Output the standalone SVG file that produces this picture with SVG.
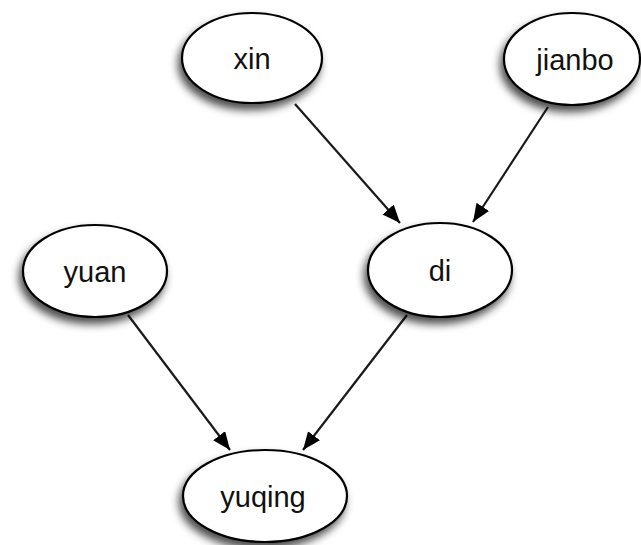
<svg xmlns="http://www.w3.org/2000/svg" width="641" height="545" viewBox="0 0 641 545">
<defs>
<filter id="sh" x="-30%" y="-30%" width="160%" height="170%">
<feDropShadow dx="-3" dy="6" stdDeviation="4.5" flood-color="#000" flood-opacity="0.7"/>
</filter>
<marker id="ah" markerUnits="userSpaceOnUse" markerWidth="20" markerHeight="16" refX="18" refY="7.5" orient="auto">
<path d="M0,0 L18,7.5 L0,15 Z" fill="#000"/>
</marker>
<style>
.n ellipse{fill:#fff;stroke:#000;stroke-width:2.2;filter:url(#sh)}
.n text{font-family:"Liberation Sans",Arial,sans-serif;font-size:29px;fill:#111;text-anchor:middle}
.e line{stroke:#1a1a1a;stroke-width:2.2;marker-end:url(#ah)}
</style>
</defs>
<rect width="641" height="545" fill="#fff"/>
<g class="e" id="edges">
<line x1="295" y1="104" x2="400" y2="223"/>
<line x1="548" y1="107" x2="473" y2="222"/>
<line x1="128" y1="315" x2="230" y2="450"/>
<line x1="407" y1="315" x2="303" y2="450"/>
</g>
<g class="n" id="xin"><ellipse cx="252" cy="58" rx="70" ry="45"/><text x="252" y="69">xin</text></g>
<g class="n" id="jianbo"><ellipse cx="572" cy="59" rx="68" ry="46"/><text x="575" y="70">jianbo</text></g>
<g class="n" id="yuan"><ellipse cx="95" cy="271" rx="72" ry="46"/><text x="95" y="282">yuan</text></g>
<g class="n" id="di"><ellipse cx="440" cy="270" rx="72" ry="47"/><text x="440" y="281">di</text></g>
<g class="n" id="yuqing"><ellipse cx="265" cy="496" rx="82" ry="46"/><text x="263" y="507">yuqing</text></g>
</svg>
